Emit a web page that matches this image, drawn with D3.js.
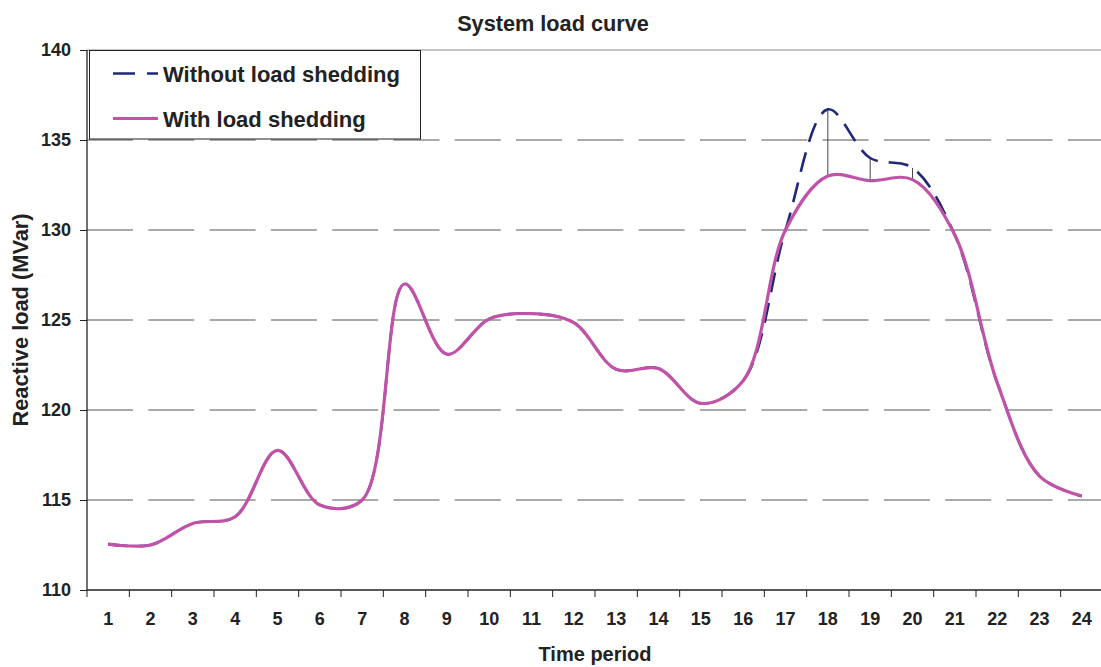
<!DOCTYPE html>
<html>
<head>
<meta charset="utf-8">
<script src="https://cdn.jsdelivr.net/npm/d3@7"></script>
<style>
  html, body { margin: 0; padding: 0; background: #fff; }
  svg { display: block; }
  text { font-family: "Liberation Sans", Arial, sans-serif; font-weight: bold; fill: #222; }
</style>
</head>
<body>
<svg id="chart" width="1101" height="667"></svg>
<script>
const periods = ["1","2","3","4","5","6","7","8","9","10","11","12","13","14","15","16","17","18","19","20","21","22","23","24"];
const withoutShedding = [112.55, 112.5, 113.7, 114.07, 117.76, 114.72, 115.0, 127.0, 123.1, 125.06, 125.35, 124.85, 122.26, 122.3, 120.37, 121.63, 130.0, 136.7, 134.0, 133.45, 129.72, 121.52, 116.33, 115.22];
const withShedding    = [112.55, 112.5, 113.7, 114.07, 117.76, 114.72, 115.0, 127.0, 123.1, 125.06, 125.35, 124.85, 122.26, 122.3, 120.37, 121.63, 130.0, 133.0, 132.74, 132.8, 129.72, 121.52, 116.33, 115.22];
const seriesNames = ["Without load shedding", "With load shedding"];
const yTicks = [110, 115, 120, 125, 130, 135, 140];
const chartTitle = "System load curve";
const xTitle = "Time period";
const yTitle = "Reactive load (MVar)";

(function () {
const svg = d3.select("#chart");
const pL = 87, pR = 1103, pT = 50, pB = 590;

const x = d3.scaleBand().domain(periods).range([pL, pR]).paddingInner(0).paddingOuter(0);
const y = d3.scaleLinear().domain([110, 140]).range([pB, pT]);
const cx = p => x(p) + x.bandwidth() / 2;

// gridlines
svg.append("g").selectAll("line").data(yTicks.filter(v => v > 110 && v < 140)).join("line")
  .attr("x1", pL).attr("x2", 1101)
  .attr("y1", d => y(d)).attr("y2", d => y(d))
  .attr("stroke", "#555").attr("stroke-width", 1)
  .attr("stroke-dasharray", "46,15.3");

// top border
svg.append("line").attr("x1", pL).attr("x2", 1101).attr("y1", y(140)).attr("y2", y(140))
  .attr("stroke", "#888").attr("stroke-width", 1);

// high-low lines
svg.append("g").selectAll("line").data(periods).join("line")
  .attr("x1", d => cx(d)).attr("x2", d => cx(d))
  .attr("y1", (d, i) => y(withoutShedding[i])).attr("y2", (d, i) => y(withShedding[i]))
  .attr("stroke", "#444").attr("stroke-width", 1);

const line = d3.line().x((d, i) => cx(periods[i])).y(d => y(d)).curve(d3.curveCatmullRom.alpha(0.5));

svg.append("path").datum(withoutShedding).attr("d", line)
  .attr("fill", "none").attr("stroke", "#1f2878").attr("stroke-width", 2.6)
  .attr("stroke-dasharray", "20,11");
svg.append("path").datum(withShedding).attr("d", line)
  .attr("fill", "none").attr("stroke", "#c052a8").attr("stroke-width", 3.2);

// axes
const xAxis = d3.axisBottom(x).tickSize(0).tickFormat(d => d);
const gx = svg.append("g").attr("transform", `translate(0,${pB})`).call(xAxis);
gx.select(".domain").remove();
gx.selectAll("text").attr("y", 35).attr("dy", 0).style("font-size", "18px").style("font-family", "Liberation Sans, Arial, sans-serif").style("font-weight", "bold").attr("fill", "#222");
svg.append("g").selectAll("line").data(d3.range(periods.length + 1)).join("line")
  .attr("x1", i => pL + i * x.bandwidth()).attr("x2", i => pL + i * x.bandwidth())
  .attr("y1", pB).attr("y2", pB + 7)
  .attr("stroke", "#222").attr("stroke-width", 1);
svg.append("line").attr("x1", pL).attr("x2", 1101).attr("y1", pB).attr("y2", pB)
  .attr("stroke", "#222").attr("stroke-width", 1.3);

const yAxis = d3.axisLeft(y).tickValues(yTicks).tickSize(7).tickPadding(9).tickFormat(d3.format("d"));
const gy = svg.append("g").attr("transform", `translate(${pL},0)`).call(yAxis);
gy.select(".domain").attr("stroke", "#222").attr("stroke-width", 1.3).attr("d", `M0,${pT}V${pB}`);
gy.selectAll(".tick line").attr("stroke", "#222");
gy.selectAll("text").style("font-size", "18px").style("font-family", "Liberation Sans, Arial, sans-serif").style("font-weight", "bold").attr("fill", "#222");

// titles
svg.append("text").attr("x", 553).attr("y", 31).attr("text-anchor", "middle").style("font-size", "21.7px").text(chartTitle);
svg.append("text").attr("x", (pL + pR) / 2).attr("y", 661).attr("text-anchor", "middle").style("font-size", "20px").text(xTitle);
svg.append("text").attr("transform", `translate(28,${(pT + pB) / 2}) rotate(-90)`).attr("text-anchor", "middle").style("font-size", "21.8px").text(yTitle);

// legend
const lg = svg.append("g");
lg.append("rect").attr("x", 89.5).attr("y", 50.5).attr("width", 331).attr("height", 88.5)
  .attr("fill", "#fff").attr("stroke", "#222").attr("stroke-width", 1);
const legendItems = [
  {name: seriesNames[0], color: "#1f2878", dash: "22,12", w: 2.6, yy: 73.5},
  {name: seriesNames[1], color: "#c052a8", dash: null, w: 3.2, yy: 118.5}
];
legendItems.forEach(it => {
  const l = lg.append("line").attr("x1", 113).attr("x2", 158).attr("y1", it.yy).attr("y2", it.yy)
    .attr("stroke", it.color).attr("stroke-width", it.w);
  if (it.dash) l.attr("stroke-dasharray", it.dash);
  lg.append("text").attr("x", 163).attr("y", it.yy + 8).style("font-size", "22px").text(it.name);
});
})();
</script>
</body>
</html>
